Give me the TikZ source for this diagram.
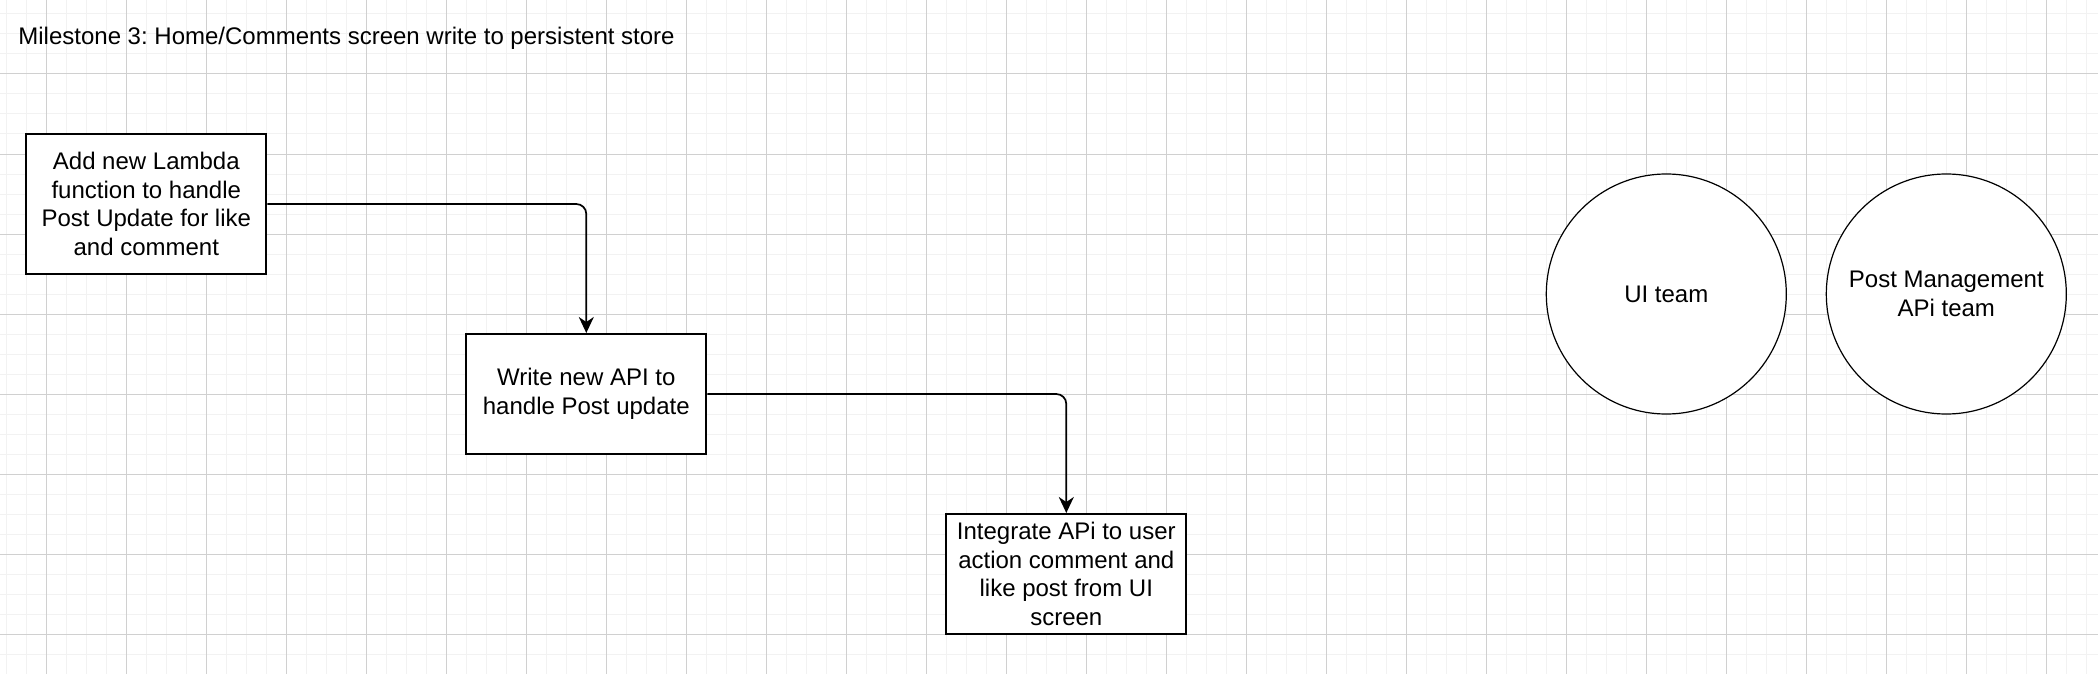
\documentclass[tikz,border=0pt]{standalone}
\usepackage{fontspec}
\setmainfont{Liberation Sans}
\usepackage{tikz}
\usetikzlibrary{arrows.meta}
\definecolor{gridmajor}{HTML}{D0D0D0}
\definecolor{gridminor}{HTML}{F2F2F2}
\definecolor{ink}{HTML}{000000}
\frenchspacing

\begin{document}
\begin{tikzpicture}[x=0.5pt,y=-0.5pt,
  taskbox/.style={rectangle,draw=ink,line width=1pt,fill=white,minimum width=120pt,minimum height=60pt,align=center,font=\fontsize{12}{14.4}\selectfont,inner sep=2pt},
  teamball/.style={circle,draw=ink,line width=0.6pt,fill=white,minimum size=120pt,align=center,font=\fontsize{12}{14.4}\selectfont,inner sep=0pt},
  flow/.style={-{Stealth[length=8pt,width=7.5pt,inset=2.5pt]},ink,line width=0.85pt,rounded corners=5pt}]
\useasboundingbox (0,0) rectangle (2098,674);
\fill[white] (0,0) rectangle (2098,674);
% grid
\foreach \gx in {6.3,26.3,...,2098} \draw[gridminor,line width=0.5pt] (\gx,0) -- (\gx,674);
\foreach \gy in {14,34,...,674} \draw[gridminor,line width=0.5pt] (0,\gy) -- (2098,\gy);
\foreach \gx in {46.3,126.3,...,2098} \draw[gridmajor,line width=0.5pt] (\gx,0) -- (\gx,674);
\foreach \gy in {74,154,...,674} \draw[gridmajor,line width=0.5pt] (0,\gy) -- (2098,\gy);

\node[anchor=west,inner sep=0pt,font=\fontsize{12}{14.4}\selectfont] (title) at (18,38) {Milestone 3: Home/Comments screen write to persistent store};

\node[taskbox,minimum height=70pt] (t0) at (146.3,204) {Add new Lambda\\function to handle\\Post Update for like\\and comment};
\node[taskbox] (t1) at (586.3,394) {Write new API to\\handle Post update};
\node[taskbox] (t2) at (1066.3,574) {Integrate APi to user\\action comment and\\like post from UI\\screen};
\draw[flow] (t0.east) -| (t1.north);
\draw[flow] (t1.east) -| (t2.north);

\node[teamball] (g0) at (1666.3,294) {UI team};
\node[teamball] (g1) at (1946.3,294) {Post Management\\APi team};
\end{tikzpicture}
\end{document}
